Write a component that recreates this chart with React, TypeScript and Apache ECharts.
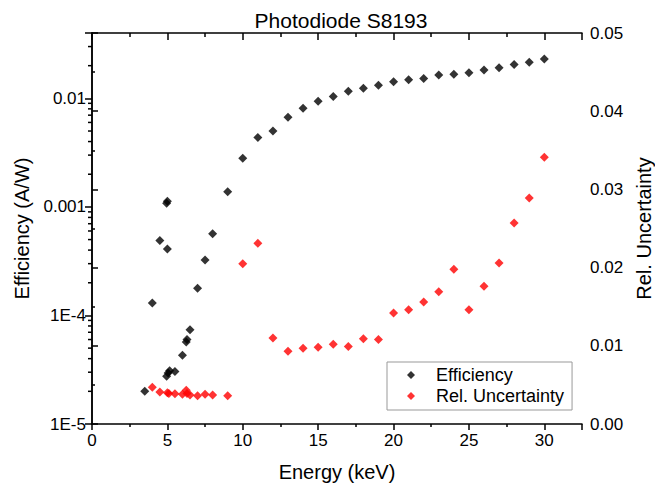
import React, { useEffect, useRef } from "react";
import * as echarts from "echarts";

const titleText = "Photodiode S8193";
const xName = "Energy (keV)";
const yLeftName = "Efficiency (A/W)";
const yRightName = "Rel. Uncertainty";

const effEnergy = [3.5, 4, 4.5, 4.95, 5.0, 5.0, 4.95, 5.05, 5.15, 5.5, 6, 6.25, 6.3, 6.5, 7, 7.5, 8, 9, 10, 11, 12, 13, 14, 15, 16, 17, 18, 19, 20, 21, 22, 23, 24, 25, 26, 27, 28, 29, 30];
const effValues = [2.0e-5, 1.3e-4, 4.9e-4, 1.08e-3, 1.13e-3, 4.1e-4, 2.75e-5, 2.95e-5, 3.1e-5, 3.05e-5, 4.3e-5, 5.7e-5, 6.0e-5, 7.4e-5, 1.78e-4, 3.25e-4, 5.65e-4, 1.38e-3, 2.81e-3, 4.37e-3, 5.0e-3, 6.7e-3, 8.1e-3, 9.4e-3, 1.04e-2, 1.16e-2, 1.24e-2, 1.32e-2, 1.42e-2, 1.48e-2, 1.52e-2, 1.64e-2, 1.67e-2, 1.72e-2, 1.82e-2, 1.91e-2, 2.05e-2, 2.15e-2, 2.31e-2];

const uncEnergy = [4, 4.5, 5, 5.1, 5.5, 6, 6.25, 6.3, 6.5, 7, 7.5, 8, 9, 10, 11, 12, 13, 14, 15, 16, 17, 18, 19, 20, 21, 22, 23, 24, 25, 26, 27, 28, 29, 30];
const uncValues = [0.0047, 0.0041, 0.004, 0.0039, 0.00387, 0.0038, 0.0043, 0.0039, 0.0037, 0.0036, 0.0038, 0.0037, 0.0036, 0.0205, 0.0231, 0.011, 0.0093, 0.0097, 0.0098, 0.0102, 0.0099, 0.0109, 0.0108, 0.0142, 0.0146, 0.0156, 0.0169, 0.0198, 0.0146, 0.0176, 0.0206, 0.0257, 0.0289, 0.0341];

const logMinorMultipliers = [2, 3, 4, 5, 6, 7, 8, 9];
const logDecades = [1e-5, 1e-4, 1e-3, 1e-2];
const leftMin = 1e-5;
const leftMax = 0.04;

const FONT = "'Liberation Sans', Arial, sans-serif";

export default function App() {
  const ref = useRef<HTMLDivElement>(null);
  useEffect(() => {
    if (!ref.current) return;
    const chart = echarts.init(ref.current, undefined, { renderer: "svg" });
    const minorTicks: number[][] = [];
    logDecades.forEach((d) =>
      logMinorMultipliers.forEach((m) => {
        const v = d * m;
        if (v < leftMax) minorTicks.push([0, v]);
      })
    );
    const axisLine = { show: true, lineStyle: { color: "#000", width: 1.5 } };
    const labelStyle = { color: "#000", fontSize: 17, fontFamily: FONT };
    const nameStyle = { color: "#000", fontSize: 20, fontFamily: FONT };
    chart.setOption({
      animation: false,
      backgroundColor: "#fff",
      textStyle: { fontFamily: FONT },
      title: {
        text: titleText,
        left: 336,
        textAlign: "center",
        top: 5,
        textStyle: { color: "#000", fontSize: 21, fontWeight: "normal", fontFamily: FONT },
      },
      grid: { left: 92, right: 73, top: 33, bottom: 63, containLabel: false, outerBoundsMode: "none" },
      legend: {
        data: ["Efficiency", "Rel. Uncertainty"],
        orient: "vertical",
        left: 387,
        top: 362,
        width: 184,
        padding: [4, 8, 5, 20],
        itemGap: 3,
        itemWidth: 8,
        itemHeight: 8,
        borderColor: "#999",
        borderWidth: 1,
        textStyle: { color: "#000", fontSize: 18, fontFamily: FONT, padding: [0, 0, 0, 16] },
      },
      xAxis: [
        {
          type: "value",
          position: "bottom",
          min: 0,
          max: 32.5,
          interval: 5,
          name: xName,
          nameLocation: "middle",
          nameGap: 38,
          nameTextStyle: nameStyle,
          axisLine,
          axisTick: { show: true, inside: false, length: 6, lineStyle: { color: "#000", width: 1.5 } },
          minorTick: { show: true, splitNumber: 2, length: 3, lineStyle: { color: "#000", width: 1.5 } },
          axisLabel: {
            ...labelStyle,
            margin: 8,
            formatter: (v: number) => (Math.abs(v % 5) < 1e-9 ? String(v) : ""),
          },
          splitLine: { show: false },
        },
        {
          type: "value",
          position: "top",
          min: 0,
          max: 32.5,
          interval: 5,
          axisLine,
          axisTick: { show: true, inside: true, length: 7, lineStyle: { color: "#000", width: 1.5 } },
          minorTick: { show: true, splitNumber: 2, length: 4, lineStyle: { color: "#000", width: 1.5 } },
          axisLabel: { show: false },
          splitLine: { show: false },
        },
      ],
      yAxis: [
        {
          type: "log",
          logBase: 10,
          position: "left",
          min: leftMin,
          max: leftMax,
          name: yLeftName,
          nameLocation: "middle",
          nameGap: 60,
          nameTextStyle: nameStyle,
          axisLine,
          axisTick: { show: true, inside: false, length: 7, lineStyle: { color: "#000", width: 1.5 } },
          axisLabel: {
            ...labelStyle,
            margin: 6,
            formatter: (v: number) => {
              const e = Math.log10(v);
              const r = Math.round(e);
              if (Math.abs(e - r) > 1e-6) return "";
              if (r >= -3) return String(Number(Math.pow(10, r).toFixed(-r)));
              return "1E" + r;
            },
          },
          splitLine: { show: false },
        },
        {
          type: "value",
          position: "right",
          min: 0,
          max: 0.05,
          interval: 0.01,
          name: yRightName,
          nameLocation: "middle",
          nameGap: 49,
          nameRotate: 90,
          nameTextStyle: nameStyle,
          axisLine,
          axisTick: { show: true, inside: false, length: 6, lineStyle: { color: "#000", width: 1.5 } },
          minorTick: { show: true, splitNumber: 2, length: 3, lineStyle: { color: "#000", width: 1.5 } },
          axisLabel: { ...labelStyle, margin: 8, formatter: (v: number) => v.toFixed(2) },
          splitLine: { show: false },
        },
      ],
      series: [
        {
          type: "custom",
          name: "logMinor",
          xAxisIndex: 0,
          yAxisIndex: 0,
          silent: true,
          clip: false,
          data: minorTicks,
          renderItem: (params: any, api: any) => {
            const p = api.coord([api.value(0), api.value(1)]);
            return {
              type: "line",
              shape: { x1: p[0] - 4, y1: p[1], x2: p[0], y2: p[1] },
              style: { stroke: "#000", lineWidth: 1.5 },
            };
          },
        },
        {
          type: "scatter",
          name: "Efficiency",
          xAxisIndex: 0,
          yAxisIndex: 0,
          symbol: "diamond",
          symbolSize: 9,
          itemStyle: { color: "#000" },
          data: effEnergy.map((x, i) => [x, effValues[i]]),
        },
        {
          type: "scatter",
          name: "Rel. Uncertainty",
          xAxisIndex: 0,
          yAxisIndex: 1,
          symbol: "diamond",
          symbolSize: 9,
          itemStyle: { color: "#ff0000" },
          data: uncEnergy.map((x, i) => [x, uncValues[i]]),
        },
      ],
    });
    return () => chart.dispose();
  }, []);
  return (
    <div style={{ position: "absolute", left: 0, top: 0 }}>
      <div ref={ref} style={{ width: 655, height: 487 }} />
    </div>
  );
}
